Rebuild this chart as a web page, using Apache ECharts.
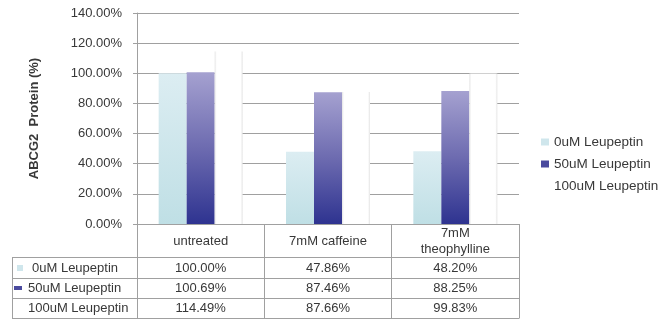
<!DOCTYPE html>
<html>
<head>
<meta charset="utf-8">
<script src="https://cdn.jsdelivr.net/npm/echarts@6/dist/echarts.min.js"></script>
<style>
html,body{margin:0;padding:0;background:#fff;}
#c{width:672px;height:325px;}
</style>
</head>
<body>
<div id="c"></div>
<script>
// ---- data ----
const categories = ['untreated', '7mM caffeine', '7mM\ntheophylline'];
const seriesNames = ['0uM Leupeptin', '50uM Leupeptin', '100uM Leupeptin'];
const leup0 = [100.00, 47.86, 48.20];
const leup50 = [100.69, 87.46, 88.25];
const leup100 = [114.49, 87.66, 99.83];
const yMin = 0, yMax = 140, yStep = 20;
const yAxisTitle = 'ABCG2  Protein (%)';

// ---- styles ----
const FONT = 'Liberation Sans, Arial, sans-serif';
const TXT = '#383838';
const LINE = '#a0a0a0';
const lightGrad = new echarts.graphic.LinearGradient(0, 0, 0, 1, [
  {offset: 0, color: '#dcedf2'}, {offset: 1, color: '#bfdfe5'}]);
const purpleGrad = new echarts.graphic.LinearGradient(0, 0, 0, 1, [
  {offset: 0, color: '#a5a1d0'}, {offset: 0.5, color: '#6d6bb0'}, {offset: 1, color: '#2e3390'}]);
const whiteGrad = new echarts.graphic.LinearGradient(0, 0, 1, 0, [
  {offset: 0, color: '#e4e4e4'}, {offset: 0.07, color: '#ffffff'},
  {offset: 0.93, color: '#ffffff'}, {offset: 1, color: '#e4e4e4'}]);
const seriesData = [leup0, leup50, leup100];
const seriesColors = [lightGrad, purpleGrad, whiteGrad];
const legendColors = ['#cfe6ec', '#4a4a9e', 'rgba(0,0,0,0)'];

const GL = 137, GR = 519, GT = 13, GB = 224;
const chart = echarts.init(document.getElementById('c'), null, {renderer: 'canvas'});

const option = {
  animation: false,
  backgroundColor: '#fff',
  grid: {left: GL, right: 672 - GR, top: GT, bottom: 325 - GB, containLabel: false},
  legend: {
    orient: 'vertical', left: 536, top: 130, itemGap: 8, itemWidth: 8, itemHeight: 7,
    icon: 'rect',
    textStyle: {fontFamily: FONT, fontSize: 13.5, color: TXT},
    data: seriesNames.map((n, i) => ({name: n, itemStyle: {color: legendColors[i]}}))
  },
  xAxis: {
    type: 'category', data: categories, boundaryGap: true,
    axisLine: {lineStyle: {color: LINE, width: 1}},
    axisTick: {show: true, length: 94, lineStyle: {color: LINE}},
    axisLabel: {fontFamily: FONT, fontSize: 13, color: TXT, margin: 17, verticalAlign: 'middle', lineHeight: 16, interval: 0}
  },
  yAxis: {
    type: 'value', min: yMin, max: yMax, interval: yStep,
    name: yAxisTitle, nameLocation: 'middle', nameGap: 96,
    nameTextStyle: {fontFamily: FONT, fontSize: 13, fontWeight: 'bold', color: TXT},
    axisLine: {show: true, lineStyle: {color: LINE}},
    axisTick: {show: true, length: 4, lineStyle: {color: LINE}},
    splitLine: {lineStyle: {color: LINE}},
    axisLabel: {fontFamily: FONT, fontSize: 13, color: TXT, margin: 15,
      formatter: v => v.toFixed(2) + '%'}
  },
  series: seriesNames.map((n, i) => ({
    name: n, type: 'bar', data: seriesData[i], barWidth: 28, barGap: '0%',
    itemStyle: {color: seriesColors[i]}
  }))
};
chart.setOption(option);

// ---- data table below the axis ----
const rowLines = [257, 278, 298, 318];
const rowCenters = [268, 288, 308];
const TL = 12;
const g = [];
rowLines.forEach(y => g.push({type: 'line', shape: {x1: TL, y1: y + 0.5, x2: GR + 0.5, y2: y + 0.5},
  style: {stroke: LINE, lineWidth: 1}, silent: true}));
g.push({type: 'line', shape: {x1: TL + 0.5, y1: rowLines[0], x2: TL + 0.5, y2: rowLines[3] + 0.5},
  style: {stroke: LINE, lineWidth: 1}, silent: true});
const colX = categories.map((c, i) => chart.convertToPixel({xAxisIndex: 0}, i));
seriesNames.forEach((name, r) => {
  const y = rowCenters[r];
  // row marker
  if (r === 0) g.push({type: 'rect', shape: {x: 17, y: y - 3, width: 6, height: 6}, style: {fill: legendColors[0]}, silent: true});
  if (r === 1) g.push({type: 'rect', shape: {x: 14, y: y - 2, width: 8, height: 4}, style: {fill: legendColors[1]}, silent: true});
  g.push({type: 'text', x: r === 0 ? 32 : 28, y: y, silent: true,
    style: {text: name, font: '13px ' + FONT, fill: TXT, align: 'left', verticalAlign: 'middle'}});
  seriesData[r].forEach((v, ci) => {
    g.push({type: 'text', x: colX[ci], y: y, silent: true,
      style: {text: v.toFixed(2) + '%', font: '13px ' + FONT, fill: TXT, align: 'center', verticalAlign: 'middle'}});
  });
});
chart.setOption({graphic: g});
</script>
</body>
</html>
